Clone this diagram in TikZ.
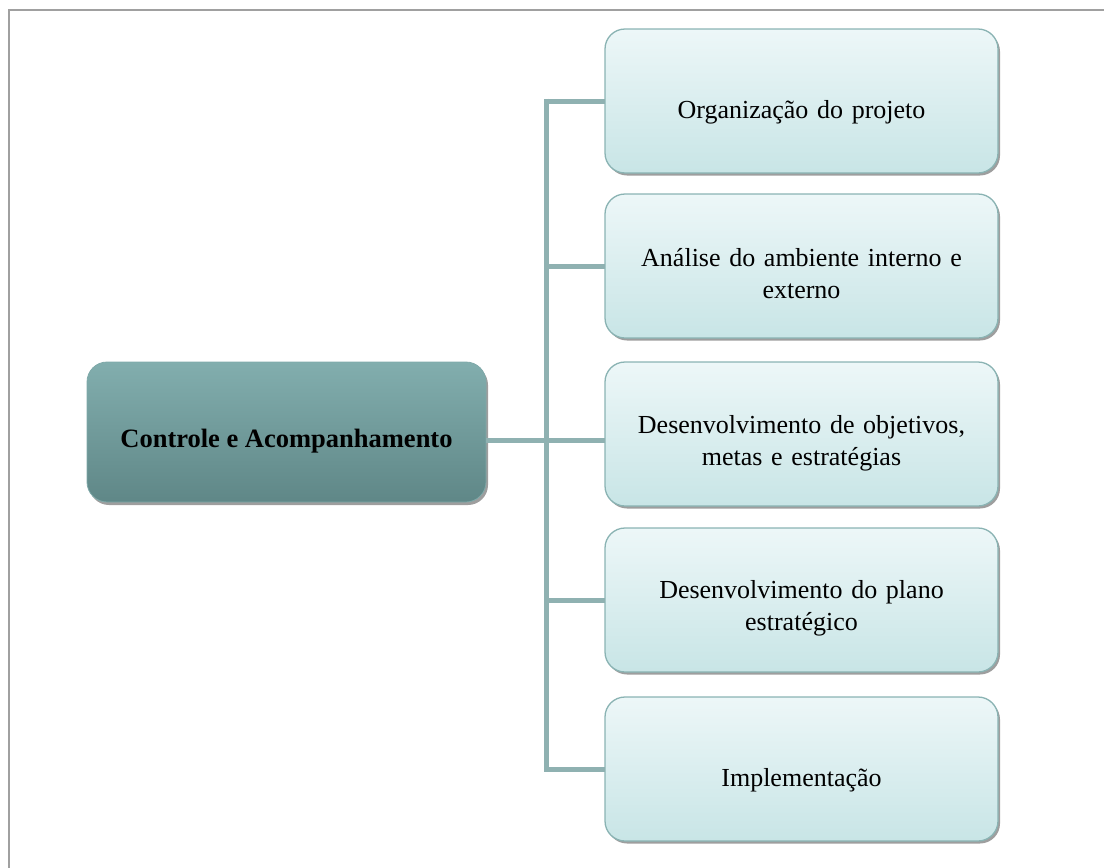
\documentclass[tikz,border=0pt]{standalone}
\usepackage{fontspec}
\setmainfont{Liberation Serif}
\usetikzlibrary{shadows,calc}
\definecolor{stepedge}{HTML}{8AB3B3}
\definecolor{steptop}{HTML}{EDF7F8}
\definecolor{stepbot}{HTML}{C8E5E6}
\definecolor{rootedge}{HTML}{7FA9A9}
\definecolor{roottop}{HTML}{82AEAE}
\definecolor{rootbot}{HTML}{5F8787}
\definecolor{linkcol}{HTML}{8FB1B1}
\definecolor{framecol}{HTML}{A0A0A0}
\tikzset{
  stepbox/.style={draw=stepedge, line width=1.3pt, rounded corners=20pt,
    top color=steptop, bottom color=stepbot,
    drop shadow={shadow xshift=2pt, shadow yshift=-2.5pt, fill=black!38, opacity=1}},
  rootbox/.style={draw=rootedge, line width=0.8pt, rounded corners=20pt,
    top color=roottop, bottom color=rootbot,
    drop shadow={shadow xshift=2pt, shadow yshift=-3pt, fill=black!38, opacity=1}},
  steptext/.style={align=center, font=\fontsize{26}{32}\selectfont, text width=380pt},
  roottext/.style={align=center, font=\fontsize{26.5}{32}\selectfont\bfseries},
  link/.style={draw=linkcol, line width=5pt}
}
\begin{document}
\begin{tikzpicture}[x=1pt,y=-1pt]
\useasboundingbox (0,0) rectangle (1104,868);
% outer frame, top and left edges only
\draw[framecol, line width=2pt] (9,868) -- (9,10) -- (1104,10);

% root box
\path[rootbox] (87,362) rectangle (486,502);
\coordinate (rootC) at (286.5,432);
\coordinate (rootR) at (486,432);

% step boxes
\foreach \n/\t in {1/29,2/194,3/362,4/528,5/697}{
  \path[stepbox] (605,\t) rectangle (998,\t+144);
  \coordinate (s\n) at (801.5,\t+72);
  \coordinate (sL\n) at (605,\t+72);
}

% connectors
\coordinate (trunk) at (546,0);
\draw[link] (rootR |- 0,440) -- (sL3 |- 0,440);
\draw[link] ($(trunk |- sL1)+(0,-2.5)$) -- ($(trunk |- sL5)+(0,2.5)$);
\foreach \n in {1,2,4,5}{
  \draw[link] (trunk |- sL\n) -- (sL\n);
}

% labels
\node[roottext] (root) at ($(rootC)+(0,9)$) {Controle e Acompanhamento};
\node[steptext] (t1) at ($(s1)+(0,11)$) {Organização do projeto};
\node[steptext] (t2) at ($(s2)+(0,8)$) {Análise do ambiente interno e\\externo};
\node[steptext] (t3) at ($(s3)+(0,9)$) {Desenvolvimento de objetivos,\\metas e estratégias};
\node[steptext] (t4) at ($(s4)+(0,8)$) {Desenvolvimento do plano\\estratégico};
\node[steptext] (t5) at ($(s5)+(0,11)$) {Implementação};
\end{tikzpicture}
\end{document}
